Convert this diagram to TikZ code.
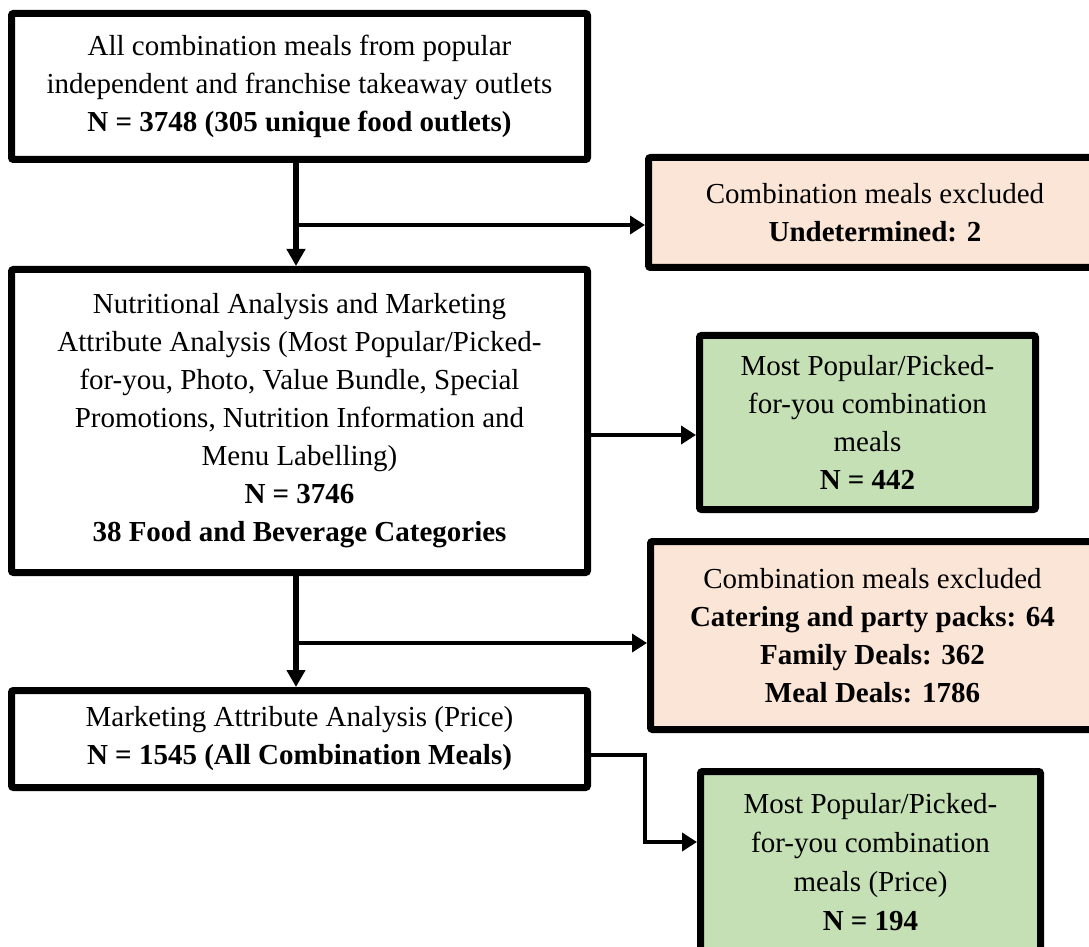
\documentclass[tikz,border=0pt]{standalone}
\usepackage{fontspec}
\setmainfont{Liberation Serif}
\usetikzlibrary{arrows.meta}
\definecolor{exclpeach}{HTML}{FBE5D6}
\definecolor{popgreen}{HTML}{C5E0B4}
\begin{document}
\begin{tikzpicture}[x=0.5pt, y=-0.5pt,
    main/.style = {draw, line width=3.5pt, rounded corners=1pt, align=center, inner sep=0pt, font=\fontsize{14.5}{19}\selectfont},
    excl/.style = {main, fill=exclpeach},
    pop/.style = {main, fill=popgreen},
    flow/.style = {line width=3pt, -{Triangle[length=8.5pt, width=9pt]}},
    side/.style = {line width=2pt, -{Triangle[length=7.5pt, width=9pt]}}]
        \useasboundingbox (0,0) rectangle (1089,947);
        \node[main, minimum width=288pt, minimum height=73pt] (all) at (299.5,86.5) {All combination meals from popular\\independent and franchise takeaway outlets\\\textbf{N = 3748 (305 unique food outlets)}};
        \node[excl, minimum width=226.5pt, minimum height=55pt] (undet) at (875,212.5) {Combination meals excluded\\\textbf{Undetermined: 2}};
        \node[main, minimum width=288pt, minimum height=151.5pt] (nutri) at (299.5,421) {Nutritional Analysis and Marketing\\Attribute Analysis (Most Popular/Picked-\\for-you, Photo, Value Bundle, Special\\Promotions, Nutrition Information and\\Menu Labelling)\\\textbf{N = 3746}\\\textbf{38 Food and Beverage Categories}};
        \node[pop, minimum width=168pt, minimum height=87pt] (pop) at (867.5,422.5) {Most Popular/Picked-\\for-you combination\\meals\\\textbf{N = 442}};
        \node[excl, minimum width=222pt, minimum height=94pt] (packs) at (872.5,635.5) {Combination meals excluded\\\textbf{Catering and party packs: 64}\\\textbf{Family Deals: 362}\\\textbf{Meal Deals: 1786}};
        \node[main, minimum width=288pt, minimum height=48.5pt] (price) at (299.5,739) {Marketing Attribute Analysis (Price)\\\textbf{N = 1545 (All Combination Meals)}};
        \node[pop, minimum width=170pt, minimum height=90.5pt, font=\fontsize{14.5}{19.5}\selectfont] (popprice) at (870.5,862) {Most Popular/Picked-\\for-you combination\\meals (Price)\\\textbf{N = 194}};
        %
        \coordinate (j1) at (296,225);
        \coordinate (j2) at (640,435);
        \coordinate (j3) at (296,643);
        \coordinate (j4) at (645,755);
        \coordinate (j5) at (645,842);
        \draw[flow] (all.south -| j1) -- (nutri.north -| j1);
        \draw[side] (j1) -- (j1 -| undet.west);
        \draw[side] (j2 -| nutri.east) -- (j2 -| pop.west);
        \draw[flow] (nutri.south -| j3) -- (price.north -| j3);
        \draw[side] (j3) -- (j3 -| packs.west);
        \draw[side] (j4 -| price.east) -- (j4) -- (j5) -- (j5 -| popprice.west);
      \end{tikzpicture}
\end{document}
